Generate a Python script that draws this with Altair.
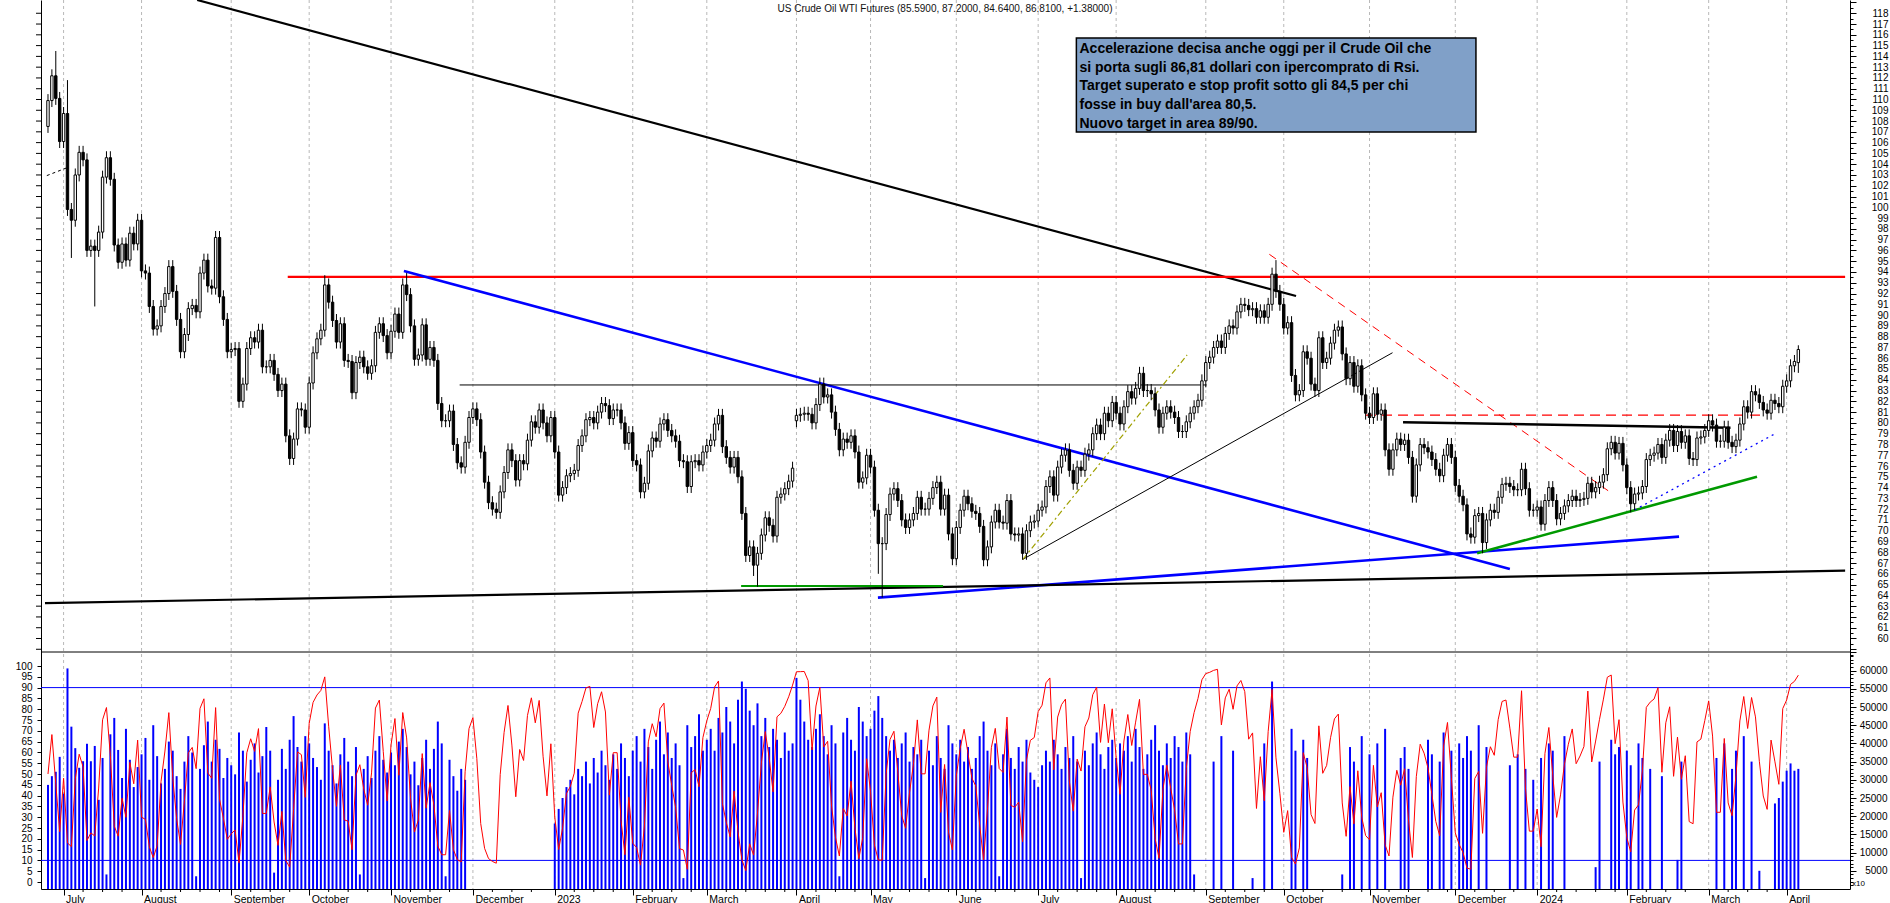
import altair as alt
import pandas as pd

# ---------------- data ----------------
month_labels = ["", "July", "August", "September", "October", "November", "December",
                "2023", "February", "March", "April", "May", "June", "July", "August",
                "September", "October", "November", "December", "2024", "February", "March", "April"]

close_jun22 = [109.9, 112.2, 110.1, 106.1]
close_jul22 = [108.7, 99.8, 98.8, 103.0, 105.1, 104.4, 96.0, 96.4, 96.0, 97.7, 102.8, 104.6, 102.6, 96.5, 94.9, 96.6, 95.1, 97.6, 96.6, 98.8]
close_aug22 = [94.1, 93.9, 90.8, 88.7, 89.0, 90.8, 92.0, 94.5, 92.2, 89.6, 86.6, 88.2, 90.6, 90.9, 90.3, 93.9, 95.1, 92.7, 92.5, 97.2, 91.7, 89.6, 86.6]
close_sep22 = [86.8, 86.9, 82.0, 83.6, 86.9, 87.9, 87.5, 88.6, 85.2, 85.2, 85.8, 84.5, 83.0, 83.6, 78.8, 76.7, 78.5, 81.3, 81.2, 79.6]
close_oct22 = [83.7, 86.5, 87.8, 88.6, 92.8, 91.2, 89.5, 87.5, 89.2, 85.8, 85.7, 82.8, 85.6, 86.1, 85.2, 84.6, 85.3, 88.4, 89.2, 88.1, 86.5]
close_nov22 = [88.5, 90.1, 88.4, 92.8, 91.9, 89.0, 85.9, 86.3, 89.1, 85.9, 87.0, 85.8, 81.8, 80.2, 80.2, 81.1, 78.0, 76.3, 75.9, 78.2, 80.5]
close_dec22 = [81.3, 80.3, 77.3, 74.5, 72.6, 72.0, 71.7, 73.6, 75.4, 77.5, 76.5, 74.7, 76.5, 76.2, 78.4, 80.1, 79.6, 81.2, 80.0, 78.8, 80.5]
close_jan23 = [77.3, 73.3, 74.0, 75.1, 75.3, 75.6, 77.9, 78.8, 80.3, 80.5, 80.0, 81.0, 81.8, 81.6, 80.4, 81.2, 81.2, 80.0, 78.1, 79.1]
close_feb23 = [76.5, 76.1, 73.6, 74.4, 77.4, 78.6, 78.3, 79.9, 80.3, 79.3, 78.8, 78.3, 76.5, 76.4, 74.1, 76.4, 76.5, 76.1, 77.3]
close_mar23 = [77.9, 78.4, 79.9, 80.7, 77.8, 76.8, 75.9, 76.8, 75.0, 71.6, 67.7, 68.5, 66.8, 67.9, 69.6, 71.2, 70.5, 69.5, 73.1, 73.4, 73.9, 74.6, 75.8]
close_apr23 = [80.7, 80.8, 80.9, 80.8, 80.0, 81.7, 83.6, 82.4, 82.6, 81.0, 79.4, 77.5, 78.5, 78.2, 78.8, 77.3, 74.5, 74.9, 77.0]
close_may23 = [75.9, 71.9, 68.8, 68.8, 71.5, 73.4, 73.9, 72.8, 71.0, 70.3, 71.0, 71.6, 73.1, 72.0, 72.0, 73.0, 74.0, 74.5, 72.0, 73.3, 69.7, 67.4]
close_jun23 = [70.3, 71.9, 73.2, 72.5, 71.8, 71.6, 70.4, 67.3, 68.5, 70.8, 71.9, 70.8, 70.7, 72.8, 69.7, 69.6, 69.7, 67.9, 70.0, 70.8, 70.9]
close_jul23 = [71.9, 72.2, 74.1, 75.0, 73.3, 75.9, 77.0, 77.5, 75.6, 74.4, 75.9, 75.6, 77.1, 77.5, 79.0, 79.8, 79.0, 80.9, 80.2, 81.9]
close_aug23 = [80.9, 79.9, 81.5, 82.9, 82.3, 83.2, 84.6, 83.0, 83.0, 82.7, 81.2, 79.6, 80.9, 81.5, 81.0, 80.5, 79.2, 79.2, 80.1, 80.9, 81.5, 82.1, 83.9]
close_sep23 = [85.6, 86.1, 87.0, 87.6, 87.0, 88.3, 89.0, 88.8, 90.3, 91.0, 90.9, 90.5, 90.6, 89.8, 90.4, 89.8, 91.0, 93.8, 92.2, 91.0]
close_oct23 = [88.8, 89.3, 84.4, 82.6, 83.0, 86.6, 86.0, 83.6, 83.0, 87.9, 85.6, 86.0, 87.4, 88.6, 88.9, 86.4, 84.1, 85.6, 83.4, 85.3, 82.6, 80.9]
close_nov23 = [80.5, 82.7, 80.8, 81.2, 77.5, 75.7, 77.5, 78.5, 78.0, 78.4, 76.8, 73.2, 76.1, 78.0, 77.7, 77.3, 76.6, 75.7, 75.1, 77.0, 78.0, 76.8]
close_dec23 = [74.2, 73.2, 72.4, 69.7, 69.4, 71.4, 71.6, 68.9, 71.0, 71.9, 71.7, 73.1, 74.3, 74.4, 74.1, 73.8, 73.8, 75.7, 73.9, 71.9, 71.9]
close_jan24 = [72.2, 70.6, 72.8, 74.0, 72.8, 71.1, 71.6, 72.3, 72.8, 73.2, 72.8, 72.9, 73.0, 74.4, 73.6, 74.0, 74.5, 75.2, 77.6, 78.2, 77.2, 78.1, 76.1]
close_feb24 = [74.0, 72.5, 73.4, 73.5, 74.1, 76.6, 77.0, 77.2, 78.0, 76.8, 78.4, 79.3, 77.9, 79.2, 78.2, 78.8, 76.7, 76.6, 78.6, 78.7, 79.3]
close_mar24 = [80.2, 79.8, 78.3, 78.3, 79.6, 78.2, 77.8, 78.4, 79.9, 81.5, 81.0, 82.9, 82.6, 81.9, 81.2, 80.9, 82.1, 81.8, 81.5, 83.4]
close_apr24 = [83.9, 85.3, 85.7, 86.81]

vol_jun22 = [28600, 31000, 32200, 36300]
vol_jul22 = [26200, 60600, 44600, 38700, 33300, 35100, 39900, 35100, 39300, 24500, 36000, 4000, 42500, 47000, 38200, 30500, 44000, 35500, 28000, 33500]
vol_aug22 = [37000, 41500, 30000, 45000, 36500, 29000, 33000, 40500, 38000, 31000, 27500, 35000, 42000, 37500, 3500, 33000, 39500, 46000, 35000, 41000, 38500, 30500, 36000]
vol_sep22 = [34000, 31500, 43000, 38000, 29500, 35500, 40000, 32000, 36500, 44500, 38000, 4500, 30000, 38500, 33000, 41000, 47500, 39000, 35000, 42000]
vol_oct22 = [40000, 36000, 33500, 30000, 45500, 38000, 34000, 29000, 37000, 41500, 35000, 31000, 39000, 4000, 33000, 36500, 30500, 38000, 42000, 35500, 32000]
vol_nov22 = [37500, 34000, 40500, 44000, 39000, 31500, 35000, 28500, 36000, 41000, 33000, 38500, 46000, 40000, 3500, 35500, 31000, 27000, 33000, 30000, 0]
vol_dec22 = [0] * 21
vol_jan23 = [18000, 22000, 25000, 28000, 30000, 26000, 33000, 31000, 35000, 29000, 36000, 32000, 38000, 34000, 30000, 37000, 33000, 40000, 36000, 31000]
vol_feb23 = [38000, 42000, 35000, 44000, 39000, 33000, 41000, 46000, 37000, 43000, 36000, 40000, 34000, 3000, 45000, 39000, 42000, 48000, 38000]
vol_mar23 = [41000, 44000, 38000, 47000, 43000, 50000, 46000, 40000, 52000, 57000, 55000, 49000, 45000, 51000, 42000, 47000, 39000, 44000, 41000, 36000, 43000, 38000, 40000]
vol_apr23 = [58000, 52000, 46000, 41000, 39000, 44000, 48000, 42000, 37000, 45000, 40000, 3500, 43000, 47000, 41000, 38000, 50000, 46000, 42000]
vol_may23 = [44000, 49000, 53000, 47000, 42000, 38000, 41000, 36000, 40000, 43000, 35000, 39000, 37000, 41000, 3000, 38000, 34000, 42000, 36000, 33000, 45000, 40000]
vol_jun23 = [37000, 41000, 35000, 39000, 33000, 36000, 42000, 46000, 38000, 34000, 40000, 3500, 37000, 44000, 36000, 33000, 39000, 35000, 41000, 32000, 30000]
vol_jul23 = [28000, 34000, 38000, 35000, 41000, 37000, 33000, 39000, 36000, 42000, 35000, 3000, 38000, 34000, 40000, 43000, 37000, 33000, 39000, 41000]
vol_aug23 = [36000, 40000, 38000, 42000, 35000, 44000, 39000, 33000, 37000, 41000, 45000, 38000, 34000, 40000, 36000, 42000, 39000, 35000, 43000, 37000, 4000, 0, 0]
vol_sep23 = [0, 0, 35000, 0, 42000, 0, 0, 38000, 0, 0, 0, 0, 3000, 0, 0, 40000, 0, 57000, 0, 0]
vol_oct23 = [0, 0, 44000, 38000, 0, 41000, 36000, 0, 0, 0, 0, 0, 0, 0, 0, 4000, 0, 39000, 35000, 0, 42000, 0]
vol_nov23 = [37000, 0, 40000, 0, 44000, 0, 0, 0, 36000, 39000, 33000, 0, 0, 0, 0, 41000, 37000, 0, 35000, 43000, 0, 38000]
vol_dec23 = [0, 40000, 36000, 42000, 38000, 0, 45000, 0, 39000, 0, 0, 0, 0, 0, 34000, 0, 37000, 0, 33000, 0, 30000]
vol_jan24 = [0, 36000, 0, 40000, 38000, 0, 0, 42000, 0, 0, 0, 0, 0, 0, 0, 6000, 35000, 0, 0, 41000, 37000, 39000, 0]
vol_feb24 = [38000, 34000, 0, 40000, 36000, 0, 33000, 0, 0, 31000, 0, 0, 0, 8000, 35000, 0, 0, 0, 0, 0, 0]
vol_mar24 = [0, 0, 36000, 0, 40000, 0, 33000, 38000, 0, 42000, 0, 35000, 0, 5000, 0, 0, 0, 23500, 25000, 29500]
vol_apr24 = [32500, 34500, 32500, 33000]

closes_by_month = [close_jun22, close_jul22, close_aug22, close_sep22, close_oct22, close_nov22, close_dec22,
                   close_jan23, close_feb23, close_mar23, close_apr23, close_may23, close_jun23, close_jul23,
                   close_aug23, close_sep23, close_oct23, close_nov23, close_dec23, close_jan24, close_feb24,
                   close_mar24, close_apr24]
volumes_by_month = [vol_jun22, vol_jul22, vol_aug22, vol_sep22, vol_oct22, vol_nov22, vol_dec22,
                    vol_jan23, vol_feb23, vol_mar23, vol_apr23, vol_may23, vol_jun23, vol_jul23,
                    vol_aug23, vol_sep23, vol_oct23, vol_nov23, vol_dec23, vol_jan24, vol_feb24,
                    vol_mar24, vol_apr24]

first_open = 107.5
open_read = {192: 80.2, 449: 85.59}
high_read = {2: 114.5, 5: 111.8, 71: 93.7, 92: 93.9, 315: 95.1, 449: 87.2}
low_read = {6: 95.3, 12: 90.8, 181: 65.8, 182: 64.8, 213: 66.0, 214: 63.8, 368: 67.9, 406: 71.7, 449: 84.64}
WICK = 0.6

# trend lines drawn on the chart: (index0, price0, index1, price1)
trend_lines = {
    "black_down": (38.27, 119.23, 320.15, 91.77),
    "red_res": (61.5, 93.55, 461.0, 93.55),
    "blue_down": (91.3, 94.09, 375.0, 66.45),
    "blue_up": (212.9, 63.79, 418.4, 69.45),
    "black_base": (-0.77, 63.29, 461.0, 66.29),
    "green_low": (177.8, 64.87, 229.6, 64.87),
    "black_mid": (105.6, 83.52, 297.2, 83.52),
    "black_diag": (250.1, 67.35, 344.9, 86.51),
    "olive_diag": (250.1, 67.35, 292.2, 86.30),
    "red_diag": (313.3, 95.64, 400.2, 73.71),
    "red_hline": (338.1, 80.73, 440.1, 80.73),
    "black_neck": (347.6, 80.06, 431.6, 79.55),
    "green_up": (366.6, 67.90, 438.4, 75.01),
    "blue_dot": (407.0, 71.92, 443.5, 79.09),
    "black_stub": (-0.3, 102.94, 4.8, 103.66),
}
line_styles = {
    "black_down": ("black", 2.2, None),
    "red_res": ("#ff0000", 2.2, None),
    "blue_down": ("#0000ff", 2.6, None),
    "blue_up": ("#0000ff", 2.6, None),
    "black_base": ("black", 2.2, None),
    "green_low": ("#009900", 2.2, None),
    "black_mid": ("black", 1, None),
    "black_diag": ("black", 1, None),
    "olive_diag": ("#a0a000", 1.2, [6, 3, 2, 3]),
    "red_diag": ("#ff0000", 1, [8, 6]),
    "red_hline": ("#ff0000", 1.3, [10, 6]),
    "black_neck": ("black", 2.4, None),
    "green_up": ("#009900", 2.6, None),
    "blue_dot": ("#0000ff", 1.3, [2, 4]),
    "black_stub": ("black", 1, [3, 3]),
}

title_text = "US Crude Oil WTI Futures (85.5900, 87.2000, 84.6400, 86.8100, +1.38000)"
note_lines = [
    "Accelerazione decisa anche oggi per il Crude Oil che",
    "si porta sugli 86,81 dollari con ipercomprato di Rsi.",
    "Target superato e stop profit sotto gli 84,5 per chi",
    "fosse in buy dall'area 80,5.",
    "Nuovo target in area 89/90.",
]
rsi_levels = [10, 90]

# ---------------- assemble ----------------
closes, volumes, month_start, month_names = [], [], [], []
for lab, c, v in zip(month_labels, closes_by_month, volumes_by_month):
    if lab:
        month_start.append(len(closes))
        month_names.append(lab)
    closes.extend(c)
    v = list(v)[:len(c)] + [0] * max(0, len(c) - len(v))
    volumes.extend(v)
N = len(closes)

opens = [first_open] + closes[:-1]
for k, val in open_read.items():
    opens[k] = val
highs = [max(o, c) + WICK for o, c in zip(opens, closes)]
lows = [min(o, c) - WICK for o, c in zip(opens, closes)]
for k, val in high_read.items():
    highs[k] = val
for k, val in low_read.items():
    lows[k] = val

# RSI (3-period, Wilder smoothing) computed from the closes
n_rsi = 3
ag, al = 1.0, 1.0
rsi = [50.0]
for k in range(1, N):
    d = closes[k] - closes[k - 1]
    ag = (ag * (n_rsi - 1) + max(d, 0)) / n_rsi
    al = (al * (n_rsi - 1) + max(-d, 0)) / n_rsi
    rsi.append(100 * ag / (ag + al) if ag + al > 0 else 50.0)

df = pd.DataFrame({
    "i": list(range(N)), "open": opens, "close": closes, "high": highs, "low": lows,
    "vol": volumes, "rsi": rsi,
})
df["fill"] = ["white" if c >= o else "black" for o, c in zip(opens, closes)]

# ---------------- geometry ----------------
W, H = 1809, 889
PX_PER_DAY = 3.92
X0 = -2 / PX_PER_DAY
X1 = (W - 2) / PX_PER_DAY
P_TOP = 119.23
PX_PER_PRICE = 10.78
P_BOT = P_TOP - H / PX_PER_PRICE
RSI_PX = 2.16
RSI_BOT = -7 / RSI_PX
RSI_TOP = 100 + 666 / RSI_PX
VOL_TOP = H / 3.64 * 1000

FONT = "Liberation Sans"
xscale = alt.Scale(domain=[X0, X1], nice=False, zero=False)
pscale = alt.Scale(domain=[P_BOT, P_TOP], nice=False, zero=False)
rscale = alt.Scale(domain=[RSI_BOT, RSI_TOP], nice=False, zero=False)
vscale = alt.Scale(domain=[0, VOL_TOP], nice=False, zero=False)

names_js = "[" + ",".join("'%s'" % m for m in month_names) + "]"
starts_js = "[" + ",".join(str(s) for s in month_start) + "]"
x_axis = alt.Axis(values=month_start, labelExpr=f"{names_js}[indexof({starts_js}, datum.value)]",
                  title=None, grid=False, tickSize=6, tickColor="black", domainColor="black",
                  labelColor="black", labelFont=FONT, labelFontSize=10.5, labelAlign="left",
                  labelBaseline="top", labelPadding=-1, labelOffset=2, labelOverlap=False,
                  labelFlush=False, labelBound=False)

price_axis = alt.Axis(orient="right", values=[v / 2 for v in range(117, 239)],
                      labelExpr="(datum.value % 1 == 0 && datum.value >= 60 && datum.value <= 118) ? datum.label : ''",
                      format=".0f", title=None, grid=False,
                      tickSize={"condition": {"test": "datum.value % 1 != 0", "value": 3}, "value": 6},
                      tickColor="black", domainColor="black", labelColor="black", labelFont=FONT,
                      labelFontSize=10, labelAlign="right", labelPadding=32, labelOverlap=False,
                      labelFlush=False, labelBound=False)

rsi_axis = alt.Axis(orient="left", values=list(range(0, 101, 5)), title=None, grid=False,
                    tickSize=4, tickColor="black", domainColor="black", labelColor="black",
                    labelFont=FONT, labelFontSize=10, labelPadding=5, labelOverlap=False,
                    labelFlush=False, labelBound=False)

vol_axis = alt.Axis(orient="right", values=list(range(1000, 66000, 1000)),
                    labelExpr="(datum.value % 5000 == 0 && datum.value <= 60000) ? datum.label : ''",
                    format="d", title=None, grid=False, domain=False,
                    tickSize={"condition": {"test": "datum.value % 5000 != 0", "value": 3}, "value": 6},
                    tickColor="black", labelColor="black", labelFont=FONT, labelFontSize=10,
                    labelAlign="right", labelPadding=31, labelOverlap=False, labelFlush=False,
                    labelBound=False)


# every layer that uses a scale carries the same axis definition, so they merge cleanly
def X(field):
    return alt.X(field, type="quantitative", scale=xscale, axis=x_axis)


def PY(field):
    return alt.Y(field, type="quantitative", scale=pscale, axis=price_axis)


def RY(field):
    return alt.Y(field, type="quantitative", scale=rscale, axis=rsi_axis)


def VY(field):
    return alt.Y(field, type="quantitative", scale=vscale, axis=vol_axis)


# ---------------- price panel ----------------
grid = alt.Chart(pd.DataFrame({"m": month_start})).mark_rule(
    color="#b8b8b8", strokeDash=[3, 3], strokeWidth=1).encode(x=X("m"))

wicks = alt.Chart(df).mark_rule(color="black", strokeWidth=1).encode(
    x=X("i"), y=PY("low"), y2="high")
bodies = alt.Chart(df).mark_bar(size=2.4, stroke="black", strokeWidth=1).encode(
    x=X("i"), y=PY("open"), y2="close", fill=alt.Fill("fill:N", scale=None, legend=None))

line_layers = []
for key, (a0, b0, a1, b1) in trend_lines.items():
    col, wdt, dash = line_styles[key]
    kw = dict(color=col, strokeWidth=wdt, clip=True)
    if dash:
        kw["strokeDash"] = dash
    ld = pd.DataFrame({"i": [a0, a1], "p": [b0, b1]})
    line_layers.append(alt.Chart(ld).mark_line(**kw).encode(x=X("i"), y=PY("p")))

left_ticks = alt.Chart(pd.DataFrame({"v": list(range(59, 119))})).mark_rule(
    color="black", strokeWidth=1).encode(x=alt.value(-5), x2=alt.value(0), y=PY("v"))

week_vals = [s + 5 * k for s, e in zip([0] + month_start, month_start + [N])
             for k in range(1, 5) if s + 5 * k < e - 1]
week_ticks = alt.Chart(pd.DataFrame({"w": week_vals})).mark_rule(
    color="black", strokeWidth=1).encode(x=X("w"), y=alt.value(H), y2=alt.value(H + 3))

separator = alt.Chart(pd.DataFrame({"a": [0]})).mark_rule(color="black", strokeWidth=1).encode(
    x=alt.value(0), x2=alt.value(W), y=alt.value(652))

title_mark = alt.Chart(pd.DataFrame({"i": [230.1], "p": [118.40], "t": [title_text]})).mark_text(
    font=FONT, fontSize=10, color="#111111", align="center", baseline="middle").encode(
    x=X("i"), y=PY("p"), text="t:N")

box = alt.Chart(pd.DataFrame({"a": [263.8], "b": [366.3], "c": [115.70], "d": [106.99]})).mark_rect(
    fill="#80a0c8", stroke="black", strokeWidth=1.5).encode(x=X("a"), x2="b", y=PY("c"), y2="d")

LINE_STEP = 18.8 / PX_PER_PRICE
note_df = pd.DataFrame({"i": [264.6] * len(note_lines),
                        "p": [114.70 - k * LINE_STEP for k in range(len(note_lines))],
                        "t": note_lines})
note = alt.Chart(note_df).mark_text(font=FONT, fontSize=14, fontWeight="bold", color="black",
                                    align="left", baseline="middle").encode(
    x=X("i"), y=PY("p"), text="t:N")

price_group = alt.layer(grid, separator, *line_layers, wicks, bodies, left_ticks, week_ticks,
                        box, note, title_mark)

# ---------------- lower panel ----------------
vol_bars = alt.Chart(df[df["vol"] > 0]).mark_bar(size=2, color="#0000ff").encode(
    x=X("i"), y=VY("vol"))
x10 = alt.Chart(pd.DataFrame({"t": ["x10"]})).mark_text(
    font=FONT, fontSize=8, color="black", align="left", baseline="middle").encode(
    x=alt.value(W + 2), y=alt.value(H - 5), text="t:N")
vol_group = alt.layer(vol_bars, x10)

rsi_rules = alt.Chart(pd.DataFrame({"v": rsi_levels})).mark_rule(color="#0000ff", strokeWidth=1).encode(
    y=RY("v"))
rsi_line = alt.Chart(df).mark_line(color="#ff0000", strokeWidth=1).encode(
    x=X("i"), y=RY("rsi"))
rsi_group = alt.layer(rsi_rules, rsi_line)

chart = alt.layer(price_group, vol_group, rsi_group).resolve_scale(y="independent").properties(
    width=W, height=H,
    padding={"left": 41, "top": 0, "right": 40, "bottom": 14},
    autosize=alt.AutoSizeParams(type="none"),
    background="white",
).configure_view(stroke=None)

chart.save("out.html", embed_options={"renderer": "svg", "actions": False})
